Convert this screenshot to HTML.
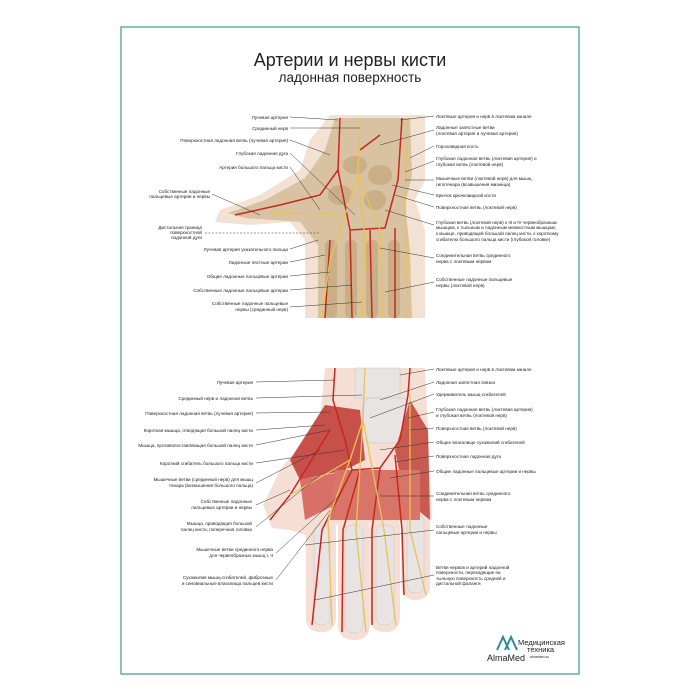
<!DOCTYPE html>
<html><head><meta charset="utf-8"><style>
html,body{margin:0;padding:0;background:#fff}
svg{display:block}
text{font-family:"Liberation Sans",sans-serif;fill:#222}
.l{font-size:4.6px}
.ln{stroke:#333;stroke-width:0.5;fill:none}
.a{stroke:#c8281e;fill:none;stroke-width:1.5}
.n{stroke:#e8c25a;fill:none;stroke-width:1.3}
</style></head><body>
<svg width="700" height="700" viewBox="0 0 700 700">
<rect x="121" y="27" width="458" height="647" fill="#fff" stroke="#3a9a9a" stroke-width="1.2"/>
<text x="350" y="66" font-size="18" text-anchor="middle">Артерии и нервы кисти</text>
<text x="350" y="82" font-size="13.5" text-anchor="middle">ладонная поверхность</text>

<!-- top hand -->
<g>
<path d="M330 115 L425 115 L425 180 L415 200 L425 230 L425 318 L305 318 L305 240 L290 222 L250 225 L215 222 L220 210 L260 195 L300 170 L310 140 Z" fill="#f3e2d3"/>
<path d="M335 118 L410 118 L412 175 L405 205 L410 250 L412 318 L318 318 L318 245 L300 222 L245 218 L228 213 L265 200 L305 178 L325 150 Z" fill="#d8c2a2"/>
<g fill="#c9ae88">
<ellipse cx="355" cy="165" rx="12" ry="9"/><ellipse cx="380" cy="175" rx="12" ry="10"/><ellipse cx="340" cy="195" rx="12" ry="10"/><ellipse cx="375" cy="200" rx="11" ry="10"/>
<rect x="325" y="240" width="12" height="78" rx="5"/><rect x="345" y="240" width="12" height="78" rx="5"/><rect x="366" y="240" width="12" height="78" rx="5"/><rect x="388" y="240" width="12" height="78" rx="5"/>
</g>
<path class="a" d="M340 118 L338 170 L320 195 L280 205 L235 215 M338 170 L350 230 L385 228 L398 180 L402 118 M330 240 L325 318 M350 230 L352 318 M370 230 L372 318 M395 228 L395 318 M360 150 L380 135"/>
<path class="n" d="M360 118 L358 175 L345 215 L330 260 L322 318 M358 175 L365 240 L362 318 M358 175 L380 230 L383 318 M408 118 L405 200 L408 318 M345 215 L270 212"/>
</g>

<!-- bottom hand -->
<g>
<path d="M325 368 L425 368 L428 430 L432 520 L332 525 L305 535 L290 530 L272 528 L263 505 L280 470 L320 420 Z" fill="#f5ded3"/>
<g fill="#f5ded3">
<rect x="306" y="515" width="30" height="117" rx="13"/>
<rect x="338" y="515" width="32" height="125" rx="14"/>
<rect x="370" y="515" width="30" height="117" rx="13"/>
<rect x="401" y="505" width="29" height="95" rx="13"/>
</g>
<g fill="#e8e4e4" stroke="#c9c4c4" stroke-width="0.5">
<rect x="355" y="368" width="45" height="30"/>
<rect x="362" y="398" width="48" height="45" rx="10"/>
<rect x="314" y="525" width="16" height="100" rx="7"/><rect x="345" y="525" width="18" height="108" rx="8"/><rect x="376" y="525" width="18" height="100" rx="7"/><rect x="407" y="515" width="17" height="78" rx="7"/>
</g>
<path d="M325 405 L360 410 L365 460 L345 470 L300 480 L290 460 Z" fill="#c8504a"/>
<path d="M410 400 L428 430 L430 520 L405 500 L395 450 Z" fill="#c85a50"/>
<path d="M300 480 L350 470 L345 500 L305 520 Z" fill="#d87068"/>
<path d="M335 470 L420 470 L420 520 L330 520 Z" fill="#d87468"/>
<path class="a" d="M335 368 L333 400 L345 440 L352 470 L380 468 L400 440 L408 395 L410 368 M352 470 L322 530 L312 625 M360 470 L343 530 L342 632 M380 468 L372 530 L372 625 M395 455 L402 530 L404 595 M330 430 L290 495 L270 520"/>
<path class="n" d="M365 368 L363 420 L350 460 L328 520 L332 625 M363 420 L356 530 L366 632 M363 420 L384 530 L396 625 M410 395 L410 530 L426 595 M350 460 L290 495"/>
</g>

<!-- leader lines -->
<g class="ln">
<line x1="290" y1="117" x2="338" y2="120"/><line x1="290" y1="128" x2="360" y2="128"/><line x1="290" y1="140" x2="330" y2="155"/><line x1="290" y1="153" x2="355" y2="215"/><line x1="290" y1="167" x2="320" y2="210"/><line x1="212" y1="194" x2="260" y2="215"/>
<line x1="205" y1="233" x2="320" y2="233" stroke-dasharray="2,1.5"/>
<line x1="290" y1="249" x2="318" y2="240"/><line x1="290" y1="262" x2="325" y2="255"/><line x1="290" y1="276" x2="330" y2="272"/><line x1="290" y1="290" x2="352" y2="285"/><line x1="290" y1="307" x2="362" y2="302"/>
<line x1="434" y1="116" x2="400" y2="120"/><line x1="434" y1="130" x2="380" y2="145"/><line x1="434" y1="146" x2="410" y2="158"/><line x1="434" y1="161" x2="405" y2="172"/><line x1="434" y1="180" x2="405" y2="180"/><line x1="434" y1="195" x2="392" y2="185"/><line x1="434" y1="207" x2="395" y2="195"/><line x1="434" y1="225" x2="385" y2="210"/><line x1="434" y1="258" x2="380" y2="248"/><line x1="434" y1="282" x2="385" y2="292"/>
<line x1="256" y1="382" x2="335" y2="380"/><line x1="256" y1="398" x2="362" y2="395"/><line x1="256" y1="413" x2="330" y2="412"/><line x1="256" y1="430" x2="325" y2="425"/><line x1="256" y1="445" x2="330" y2="430"/><line x1="256" y1="463" x2="345" y2="450"/><line x1="256" y1="483" x2="320" y2="450"/><line x1="256" y1="505" x2="290" y2="490"/><line x1="256" y1="527" x2="320" y2="475"/><line x1="276" y1="553" x2="340" y2="495"/><line x1="276" y1="580" x2="330" y2="510"/>
<line x1="434" y1="369" x2="400" y2="375"/><line x1="434" y1="382" x2="380" y2="400"/><line x1="434" y1="394" x2="370" y2="418"/><line x1="434" y1="412" x2="408" y2="418"/><line x1="434" y1="428" x2="410" y2="430"/><line x1="434" y1="442" x2="380" y2="450"/><line x1="434" y1="456" x2="395" y2="462"/><line x1="434" y1="471" x2="390" y2="478"/><line x1="434" y1="496" x2="380" y2="496"/><line x1="434" y1="530" x2="305" y2="545"/><line x1="434" y1="575" x2="315" y2="600"/>
</g>

<!-- labels -->
<g class="l">
<g text-anchor="end">
<text x="288" y="119">Лучевая артерия</text>
<text x="288" y="130">Срединный нерв</text>
<text x="288" y="142">Поверхностная ладонная ветвь (лучевая артерия)</text>
<text x="288" y="155">Глубокая ладонная дуга</text>
<text x="288" y="169">Артерия большого пальца кисти</text>
<text x="210" y="193">Собственные ладонные</text><text x="210" y="198">пальцевые артерии и нервы</text>
<text x="202" y="229">Дистальная граница</text><text x="202" y="234">поверхностной</text><text x="202" y="239">ладонной дуги</text>
<text x="288" y="251">Лучевая артерия указательного пальца</text>
<text x="288" y="264">Ладонные пястные артерии</text>
<text x="288" y="278">Общие ладонные пальцевые артерии</text>
<text x="288" y="292">Собственные ладонные пальцевые артерии</text>
<text x="288" y="305">Собственные ладонные пальцевые</text><text x="288" y="311">нервы (срединный нерв)</text>
<text x="253" y="384">Лучевая артерия</text>
<text x="253" y="400">Срединный нерв и ладонная ветвь</text>
<text x="253" y="415">Поверхностная ладонная ветвь (лучевая артерия)</text>
<text x="253" y="432">Короткая мышца, отводящая большой палец кисти</text>
<text x="253" y="447">Мышца, противопоставляющая большой палец кисти</text>
<text x="253" y="465">Короткий сгибатель большого пальца кисти</text>
<text x="253" y="481">Мышечные ветви (срединный нерв) для мышц</text><text x="253" y="487">тенара (возвышения большого пальца)</text>
<text x="252" y="503">Собственные ладонные</text><text x="252" y="509">пальцевые артерии и нервы</text>
<text x="252" y="525">Мышца, приводящая большой</text><text x="252" y="531">палец кисти, поперечная головка</text>
<text x="273" y="551">Мышечные ветви срединного нерва</text><text x="273" y="557">для червеобразных мышц I, II</text>
<text x="273" y="579">Сухожилия мышц-сгибателей, фиброзные</text><text x="273" y="585">и синовиальные влагалища пальцев кисти</text>
</g>
<text x="436" y="118">Локтевые артерия и нерв в локтевом канале</text>
<text x="436" y="129">Ладонные запястные ветви</text><text x="436" y="135">(локтевая артерия и лучевая артерия)</text>
<text x="436" y="148">Гороховидная кость</text>
<text x="436" y="160">Глубокая ладонная ветвь (локтевая артерия) и</text><text x="436" y="166">глубокая ветвь (локтевой нерв)</text>
<text x="436" y="180">Мышечные ветви (локтевой нерв) для мышц</text><text x="436" y="186">гипотенара (возвышения мизинца)</text>
<text x="436" y="197">Крючок крючковидной кости</text>
<text x="436" y="209">Поверхностная ветвь (локтевой нерв)</text>
<text x="436" y="224">Глубокая ветвь (локтевой нерв) к III и IV червеобразным</text><text x="436" y="229">мышцам, к тыльным и ладонным межкостным мышцам,</text><text x="436" y="235">к мышце, приводящей большой палец кисти, к короткому</text><text x="436" y="241">сгибателю большого пальца кисти (глубокой головке)</text>
<text x="436" y="257">Соединительная ветвь срединного</text><text x="436" y="263">нерва с локтевым нервом</text>
<text x="436" y="281">Собственные ладонные пальцевые</text><text x="436" y="287">нервы (локтевой нерв)</text>
<text x="436" y="371">Локтевые артерия и нерв в локтевом канале</text>
<text x="436" y="384">Ладонная запястная связка</text>
<text x="436" y="396">Удерживатель мышц-сгибателей</text>
<text x="436" y="411">Глубокая ладонная ветвь (локтевая артерия)</text><text x="436" y="417">и глубокая ветвь (локтевой нерв)</text>
<text x="436" y="430">Поверхностная ветвь (локтевой нерв)</text>
<text x="436" y="444">Общее влагалище сухожилий сгибателей</text>
<text x="436" y="458">Поверхностная ладонная дуга</text>
<text x="436" y="473">Общие ладонные пальцевые артерии и нервы</text>
<text x="436" y="495">Соединительная ветвь срединного</text><text x="436" y="501">нерва с локтевым нервом</text>
<text x="436" y="528">Собственные ладонные</text><text x="436" y="534">пальцевые артерии и нервы</text>
<text x="436" y="569">Ветви нервов и артерий ладонной</text><text x="436" y="574">поверхности, переходящие на</text><text x="436" y="580">тыльную поверхность средней и</text><text x="436" y="585">дистальной фаланги</text>
</g>

<!-- logo -->
<path d="M497 650 L503 637 L509 650 M505 650 L511 637 L517 650" stroke="#2a8a9a" stroke-width="2" fill="none"/>
<text x="487" y="661" font-size="9" fill="#2a5a6a">AlmaMed</text>
<text x="518" y="645" font-size="7.5" fill="#333">Медицинская</text>
<text x="527" y="652" font-size="7.5" fill="#333">техника</text>
<text x="530" y="658" font-size="3.5" fill="#555">almamed.su</text>
</svg>
</body></html>
